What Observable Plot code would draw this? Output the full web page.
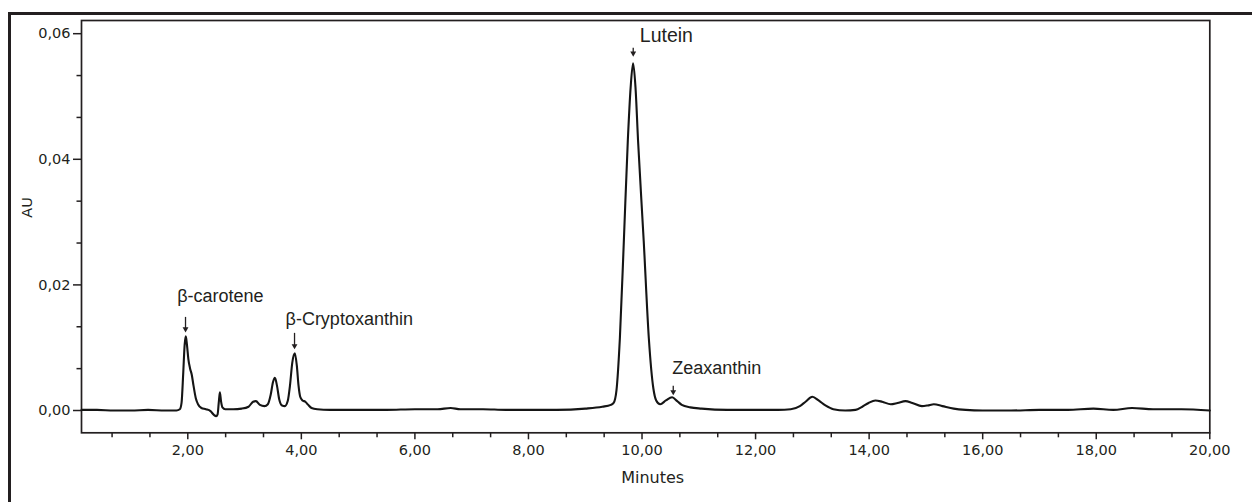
<!DOCTYPE html>
<html><head><meta charset="utf-8">
<script src="https://cdn.jsdelivr.net/npm/d3@7"></script>
<script src="https://cdn.jsdelivr.net/npm/@observablehq/plot@0.6"></script>
<style>
html,body{margin:0;padding:0;background:#fff;}
#wrap{position:relative;width:1252px;height:502px;overflow:hidden;}
#frameTop{position:absolute;left:7.5px;top:11.8px;width:1260px;height:3px;background:#231f20;}
#frameLeft{position:absolute;left:7.5px;top:11.8px;width:3px;height:500px;background:#231f20;}
#chart svg{display:block;}
</style></head><body>
<div id="wrap"><div id="chart"></div><div id="frameTop"></div><div id="frameLeft"></div></div>
<script>
// Retention time (minutes)
const times = [
  0.13, 0.40, 0.70, 1.00, 1.30, 1.60, 1.80, 1.86, 1.89, 1.92, 1.945, 1.965, 1.985, 2.01, 2.04, 2.07,
  2.10, 2.14, 2.18, 2.24, 2.32, 2.40, 2.46, 2.50, 2.525, 2.545, 2.565, 2.585, 2.61, 2.66, 2.80, 2.95,
  3.07, 3.15, 3.20, 3.27, 3.35, 3.41, 3.46, 3.50, 3.535, 3.57, 3.61, 3.66, 3.71, 3.76, 3.80, 3.84,
  3.885, 3.92, 3.95, 3.98, 4.02, 4.07, 4.12, 4.18, 4.28, 4.50, 5.00, 5.50, 6.00, 6.40, 6.63, 6.80,
  7.20, 7.60, 8.00, 8.50, 9.00, 9.30, 9.45, 9.50, 9.55, 9.61, 9.68, 9.75, 9.80, 9.843, 9.885, 9.93,
  10.03, 10.12, 10.20, 10.25, 10.32, 10.42, 10.53, 10.62, 10.70, 10.85, 11.05, 11.50, 12.00, 12.40, 12.62, 12.78,
  12.88, 13.00, 13.11, 13.23, 13.37, 13.58, 13.76, 13.88, 13.99, 14.11, 14.23, 14.38, 14.50, 14.64, 14.76, 14.93,
  15.03, 15.14, 15.29, 15.49, 15.70, 16.00, 16.50, 17.00, 17.50, 17.95, 18.30, 18.63, 19.00, 19.50, 20.00
];
// Absorbance (AU)
const absorbance = [
  0.0001, 0.0001, 0.0000, 0.0000, 0.0001, 0.0000, 0.0000, 0.0002, 0.0012, 0.0060, 0.0105, 0.0118, 0.0105, 0.0082, 0.0067, 0.0057,
  0.0040, 0.0020, 0.0010, 0.0004, 0.0002, -0.0001, -0.0007, -0.0009, -0.0006, 0.0012, 0.0029, 0.0015, 0.0005, 0.0002, 0.0002, 0.0003,
  0.0006, 0.0014, 0.0015, 0.0009, 0.0007, 0.0010, 0.0025, 0.0045, 0.0052, 0.0040, 0.0018, 0.0008, 0.0007, 0.0015, 0.0040, 0.0076,
  0.0091, 0.0072, 0.0040, 0.0022, 0.0016, 0.0014, 0.0009, 0.0004, 0.0002, 0.0001, 0.0001, 0.0001, 0.0002, 0.0002, 0.0004, 0.0002,
  0.0002, 0.0001, 0.0001, 0.0001, 0.0003, 0.0006, 0.0009, 0.0012, 0.0032, 0.0115, 0.0270, 0.0430, 0.0515, 0.0553, 0.0515, 0.0430,
  0.0270, 0.0115, 0.0035, 0.0016, 0.0010, 0.0016, 0.0021, 0.0015, 0.0009, 0.0005, 0.0003, 0.0001, 0.0001, 0.0001, 0.0002, 0.0007,
  0.0014, 0.0022, 0.0016, 0.0008, 0.0002, 0.0000, 0.0001, 0.0006, 0.0012, 0.0016, 0.0014, 0.0010, 0.0012, 0.0015, 0.0012, 0.0007,
  0.0008, 0.0010, 0.0007, 0.0003, 0.0001, 0.0000, 0.0000, 0.0001, 0.0001, 0.0003, 0.0001, 0.0004, 0.0002, 0.0002, 0.0000
];
// Labelled peaks
const peakNames = ["β-carotene", "β-Cryptoxanthin", "Lutein", "Zeaxanthin"];
const peakTimes = [1.96, 3.88, 9.845, 10.55];
const peakAU = [0.0118, 0.0091, 0.0553, 0.0021];
// Axis ticks
const xMajorTicks = [2, 4, 6, 8, 10, 12, 14, 16, 18, 20];
const yMajorTicks = [0, 0.02, 0.04, 0.06];
const xLabel = "Minutes";
const yLabel = "AU";

// ---- styling / layout ----
const ink = "#231f20";
const W = 1252, H = 502, mt = 20, mb = 69.7, ml = 81, mr = 42.7;
const xDomain = [0.128, 20], yDomain = [-0.00355, 0.0621];
const pxPerAU = (H - mt - mb) / (yDomain[1] - yDomain[0]);
// per-label pixel placement (text offset, arrow top / tip above the peak)
const labelStyle = [
  {dx: -8.3, dy: -34, top: 19, tip: 4, size: 18},
  {dx: -9, dy: -28.6, top: 20, tip: 4, size: 18},
  {dx: 6.6, dy: -21, top: 15, tip: 6.5, size: 19.5},
  {dx: -1, dy: -23.5, top: 11, tip: 2, size: 18}
];

const data = times.map((t, i) => ({t, au: absorbance[i]}));
const peaks = peakNames.map((name, i) => ({name, t: peakTimes[i], au: peakAU[i], ...labelStyle[i]}));

const xMinor = d3.range(1, 30).filter(k => k % 3 !== 0).map(k => k * 2 / 3).filter(v => v > xDomain[0] && v < 20);
const yMinor = d3.range(1, 10).filter(k => k % 3 !== 0).map(k => k * 0.02 / 3);
const fmt = d => d.toFixed(2).replace(".", ",");
const axisFont = "DejaVu Sans, Verdana, sans-serif";
const labelFont = "Liberation Sans, Arial, Helvetica, sans-serif";

const chart = Plot.plot({
  width: W, height: H,
  marginTop: mt, marginBottom: mb, marginLeft: ml, marginRight: mr,
  style: {background: "transparent", color: ink},
  x: {domain: xDomain},
  y: {domain: yDomain},
  marks: [
    Plot.axisY(yMajorTicks, {tickSize: 8, tickPadding: 3, tickFormat: fmt, fontSize: 14.5, fontFamily: axisFont, color: ink, strokeWidth: 1.5, label: null}),
    Plot.axisY(yMinor, {tickSize: 4.5, tickFormat: () => "", color: ink, strokeWidth: 1.5, label: null}),
    Plot.axisX(xMajorTicks, {tickSize: 7, tickPadding: 5, tickFormat: fmt, fontSize: 14.5, fontFamily: axisFont, color: ink, strokeWidth: 1.5, label: null}),
    Plot.axisX(xMinor, {tickSize: 5, tickFormat: () => "", color: ink, strokeWidth: 1.5, label: null}),
    Plot.frame({stroke: ink, strokeWidth: 1.7}),
    Plot.line(data, {x: "t", y: "au", curve: "monotone-x", stroke: "#151515", strokeWidth: 2.1}),
    // arrow shafts
    Plot.ruleX(peaks, {x: "t", y1: d => d.au + d.top / pxPerAU, y2: d => d.au + (d.tip + 3) / pxPerAU, stroke: ink, strokeWidth: 1.3}),
    // arrow heads
    Plot.dot(peaks, {x: "t", y: d => d.au + d.tip / pxPerAU, dy: -3.4, symbol: "triangle2", rotate: 180, r: 2.8, fill: ink, stroke: null}),
    ...peaks.map(p => Plot.text([p], {x: "t", y: "au", text: "name", dx: p.dx, dy: p.dy, textAnchor: "start", lineAnchor: "bottom", fontSize: p.size, fontFamily: labelFont, fill: ink})),
    Plot.text([xLabel], {frameAnchor: "bottom", dx: 7, dy: 45, lineAnchor: "middle", fontSize: 16, fontFamily: axisFont, fill: ink}),
    Plot.text([yLabel], {frameAnchor: "left", rotate: -90, dx: -54, dy: -9, lineAnchor: "middle", fontSize: 14.5, fontFamily: axisFont, fill: ink})
  ]
});
document.getElementById("chart").appendChild(chart);
</script>
</body></html>
